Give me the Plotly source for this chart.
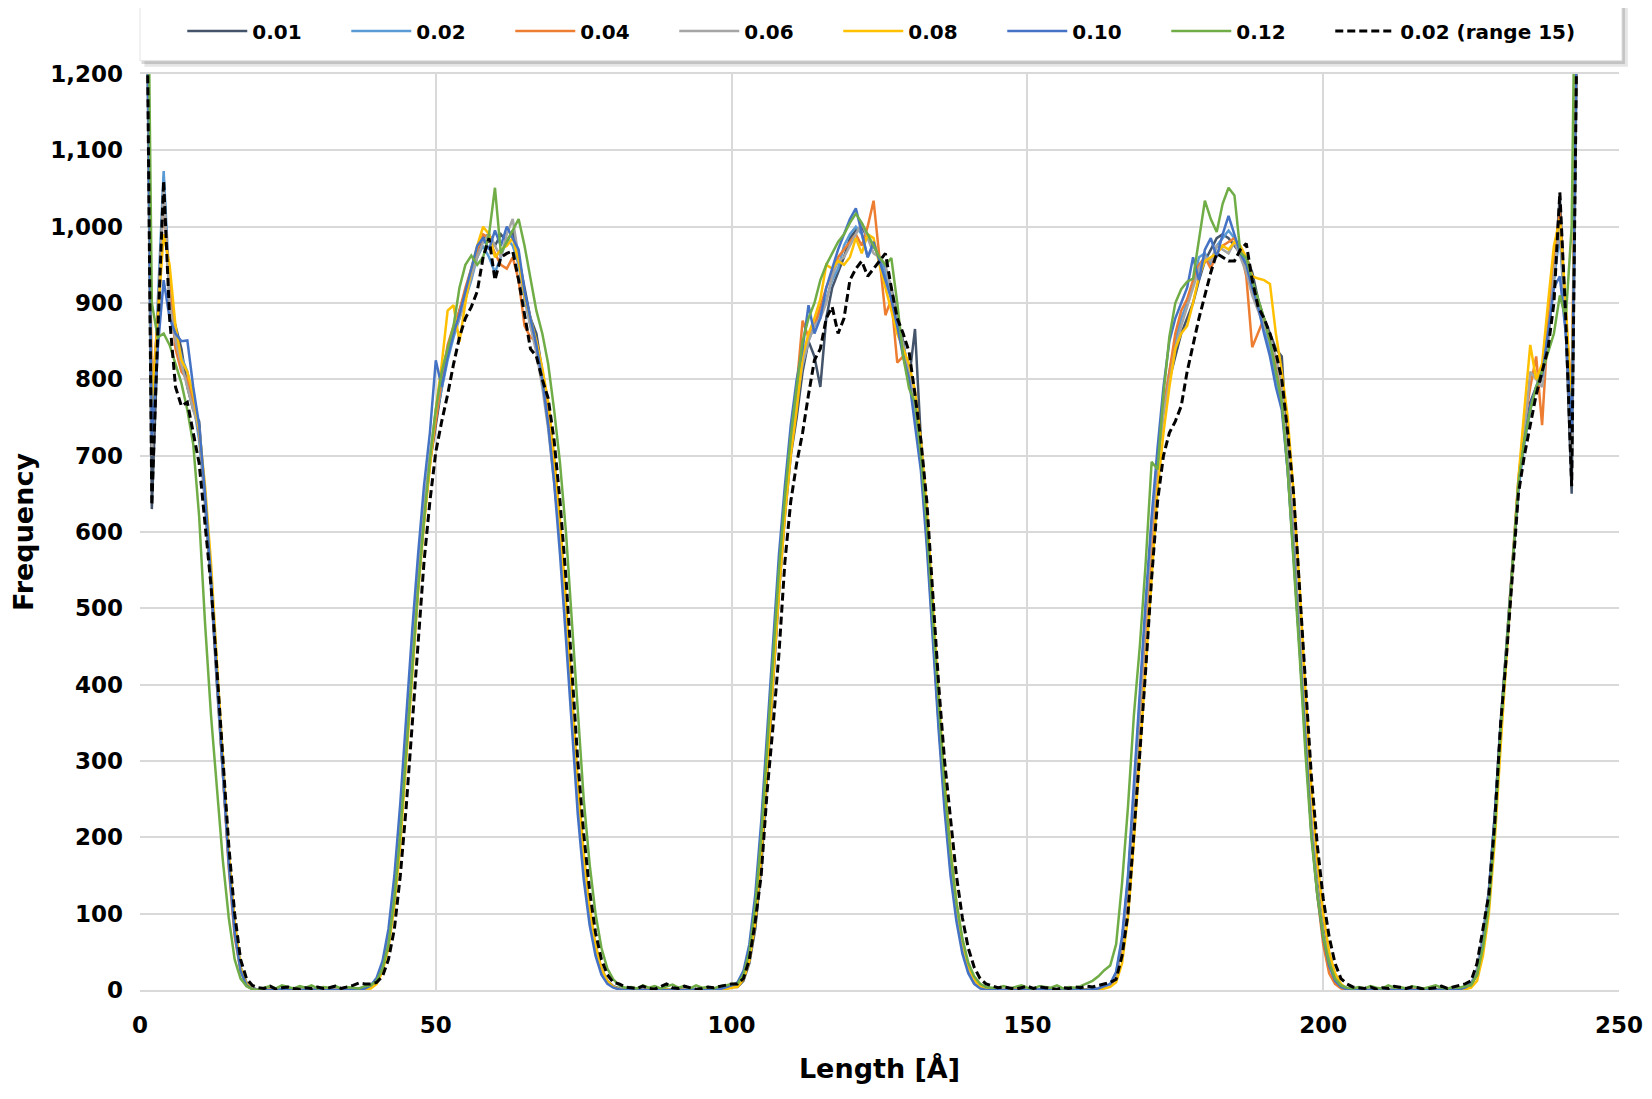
import plotly.graph_objects as go

FONT = "'DejaVu Sans', 'Open Sans', sans-serif"
GRID = "#d9d9d9"

# x positions of the histogram bins (Angstrom)
LENGTH = list(range(1, 244))

SERIES_NAMES = ["0.01", "0.02", "0.04", "0.06", "0.08", "0.10", "0.12", "0.02 (range 15)"]
SERIES_COLORS = ["#44546a", "#5b9bd5", "#ed7d31", "#a5a5a5", "#ffc000", "#4472c4", "#70ad47", "#000000"]

F001 = [
    1450, 630, 850, 1065, 900, 870, 840, 790, 760, 745, 640, 530, 400, 280, 170, 85, 30, 10, 3, 0,
    0, 0, 1, 0, 0, 2, 0, 0, 1, 0, 0, 0, 2, 0, 1, 0, 2, 3,
    5, 12, 30, 65, 125, 210, 320, 430, 530, 615, 690, 740, 790, 830, 860, 890, 915, 940, 960, 985,
    990, 975, 990, 980, 995, 960, 920, 880, 860, 810, 760, 690, 600, 490, 370, 255, 165, 100, 55, 28,
    12, 5, 2, 0,
    0, 1, 0, 0, 2, 0, 1, 0, 0, 0, 1, 0, 0, 2, 0, 1, 2, 4,
    4, 12, 35, 80, 160, 280, 400, 520, 620, 700, 750, 810, 850, 830, 790, 880, 920, 940, 960, 985,
    995, 1000, 985, 975, 960, 945, 920, 880, 850, 800, 866, 720, 600, 470, 350, 250, 170, 105, 60, 30,
    14, 6, 2, 0,
    0, 0, 1, 0, 0, 0, 2, 0, 1, 0, 0, 1, 0, 0, 0, 1, 0, 2, 3, 5,
    20, 60, 140, 250, 370, 490, 600, 690, 760, 800, 830, 860, 880, 900, 930, 955, 970, 985, 990, 985,
    975, 965, 960, 940, 905, 880, 860, 840, 830, 700, 590, 460, 330, 220, 140, 80, 40, 18, 6, 2, 0,
    0, 0, 0, 1, 0, 0, 2, 0, 0, 0, 1, 0, 0, 0, 1, 0, 0, 2, 3, 6,
    25, 70, 130, 230, 350, 450, 560, 660, 720, 770, 790, 800, 850, 930, 1040, 870, 650, 1340,
]

F002 = [
    1450, 720, 900, 1073, 920, 860, 830, 810, 770, 720, 640, 540, 410, 290, 175, 90, 30, 8, 2, 0,
    0, 0, 0, 1, 0, 0, 0, 2, 0, 0, 1, 0, 0, 0, 1, 0, 1, 3,
    4, 14, 35, 70, 135, 225, 330, 440, 540, 625, 700, 750, 790, 825, 855, 880, 905, 930, 960, 975,
    960, 940, 960, 985, 975, 950, 905, 870, 845, 810, 760, 680, 590, 480, 360, 250, 160, 95, 50, 24,
    10, 4, 1, 0,
    0, 0, 1, 0, 0, 0, 0, 1, 0, 0, 0, 0, 1, 0, 0, 0, 2, 4,
    6, 18, 45, 100, 190, 310, 430, 540, 640, 720, 780, 820, 850, 870, 890, 905, 930, 945, 975, 990,
    1000, 990, 960, 975, 960, 940, 905, 870, 845, 810, 750, 700, 600, 480, 360, 255, 170, 105, 60, 30,
    12, 4, 1, 0,
    0, 0, 0, 0, 1, 0, 0, 0, 2, 0, 0, 0, 1, 0, 0, 0, 1, 2, 4, 7,
    22, 65, 145, 255, 380, 500, 610, 700, 760, 810, 850, 880, 900, 925, 960, 965, 950, 975, 985, 995,
    985, 970, 955, 930, 900, 870, 840, 800, 770, 680, 570, 450, 320, 210, 130, 75, 38, 16, 6, 2, 0,
    0, 0, 1, 0, 0, 0, 0, 1, 0, 0, 0, 0, 2, 0, 0, 0, 1, 2, 4, 8,
    28, 72, 128, 225, 345, 450, 555, 655, 715, 760, 790, 815, 870, 930, 990, 860, 720, 1340,
]

F004 = [
    1450, 775, 880, 1040, 920, 840, 810, 800, 770, 730, 650, 540, 410, 280, 160, 70, 25, 6, 1, 0,
    0, 1, 0, 0, 0, 2, 0, 0, 0, 1, 0, 0, 0, 1, 0, 0, 2, 3,
    5, 12, 30, 66, 128, 212, 320, 430, 530, 615, 690, 745, 800, 845, 870, 890, 920, 945, 970, 990,
    985, 965, 950, 945, 960, 930, 870, 855, 850, 810, 765, 690, 600, 490, 370, 255, 165, 98, 52, 25,
    10, 4, 1, 0,
    0, 0, 0, 1, 0, 0, 0, 0, 2, 0, 0, 0, 0, 1, 0, 0, 2, 4,
    5, 16, 42, 95, 185, 300, 420, 530, 630, 720, 790, 877, 855, 870, 895, 920, 940, 960, 970, 980,
    990, 975, 1000, 1034, 960, 884, 905, 822, 830, 800, 760, 690, 590, 470, 350, 245, 160, 100, 55, 28,
    12, 5, 1, 0,
    0, 0, 0, 1, 0, 0, 0, 0, 0, 2, 0, 0, 0, 1, 0, 0, 0, 2, 4, 6,
    18, 58, 138, 245, 365, 480, 590, 690, 760, 810, 860, 890, 905, 930, 950, 960, 945, 965, 975, 980,
    985, 970, 935, 842, 860, 880, 850, 820, 780, 690, 575, 450, 320, 210, 125, 60, 22, 8, 2, 0, 0,
    0, 0, 0, 0, 1, 0, 0, 0, 0, 1, 0, 0, 0, 0, 1, 0, 0, 2, 3, 6,
    22, 65, 125, 225, 345, 455, 565, 670, 740, 790, 830, 740, 870, 960, 1020, 880, 780, 1340,
]

F006 = [
    1450, 700, 870, 1050, 900, 850, 820, 790, 760, 735, 650, 540, 410, 285, 170, 85, 28, 8, 2, 0,
    0, 0, 0, 0, 1, 0, 0, 0, 0, 2, 0, 0, 1, 0, 0, 0, 1, 3,
    5, 13, 32, 70, 135, 225, 335, 445, 545, 630, 700, 760, 810, 840, 860, 880, 905, 935, 960, 980,
    990, 975, 960, 990, 1010, 960, 910, 870, 835, 790, 735, 665, 590, 485, 365, 255, 165, 98, 52, 25,
    10, 4, 1, 0,
    0, 0, 0, 0, 0, 1, 0, 0, 0, 0, 2, 0, 0, 0, 0, 1, 2, 4,
    5, 15, 40, 90, 180, 295, 415, 530, 630, 710, 770, 820, 850, 870, 880, 900, 935, 955, 960, 975,
    990, 1005, 985, 965, 960, 950, 915, 880, 845, 810, 760, 700, 600, 480, 360, 255, 170, 105, 60, 30,
    12, 4, 1, 0,
    0, 0, 0, 0, 0, 1, 0, 0, 0, 0, 0, 2, 0, 0, 0, 0, 1, 2, 4, 7,
    20, 62, 142, 250, 375, 495, 605, 695, 755, 800, 840, 870, 895, 920, 945, 960, 955, 975, 970, 965,
    980, 960, 940, 910, 890, 870, 855, 830, 790, 700, 585, 460, 330, 220, 135, 75, 36, 15, 5, 1, 0,
    0, 0, 0, 0, 0, 0, 1, 0, 0, 0, 0, 0, 1, 0, 0, 0, 0, 2, 4, 7,
    25, 68, 128, 228, 350, 455, 560, 665, 730, 810, 800, 790, 850, 940, 1000, 870, 700, 1340,
]

F008 = [
    1450, 760, 880, 990, 950, 870, 825, 810, 780, 735, 660, 560, 430, 300, 180, 90, 30, 8, 1, 0,
    0, 0, 0, 0, 0, 1, 0, 0, 0, 0, 1, 0, 0, 0, 0, 1, 0, 1,
    2, 8, 24, 55, 110, 190, 300, 410, 520, 610, 690, 760, 820, 890, 897, 849, 900, 945, 975, 1000,
    990, 960, 970, 975, 985, 955, 910, 880, 850, 815, 770, 700, 615, 510, 390, 275, 180, 110, 60, 28,
    12, 4, 1, 0,
    0, 0, 0, 0, 0, 0, 1, 0, 0, 0, 0, 0, 0, 1, 0, 0, 1, 3,
    4, 14, 38, 88, 175, 290, 410, 520, 620, 700, 760, 830, 860, 880, 905, 950, 945, 955, 950, 960,
    985, 965, 990, 985, 950, 920, 890, 860, 840, 820, 785, 720, 630, 505, 385, 275, 185, 115, 65, 32,
    14, 5, 1, 0,
    0, 0, 0, 0, 0, 0, 1, 0, 0, 0, 0, 0, 0, 0, 1, 0, 0, 1, 2, 4,
    10, 35, 95, 195, 310, 430, 550, 655, 730, 790, 840, 860, 870, 900, 935, 955, 960, 965, 975, 970,
    980, 975, 960, 935, 932, 930, 925, 860, 810, 750, 650, 530, 390, 265, 170, 100, 50, 22, 8, 2, 0,
    0, 0, 0, 0, 0, 0, 0, 1, 0, 0, 0, 0, 0, 0, 1, 0, 0, 0, 1, 3,
    12, 45, 100, 195, 320, 440, 560, 670, 760, 845, 800, 820, 900, 975, 1010, 900, 760, 1340,
]

F010 = [
    1450, 720, 840, 930, 880, 860, 850, 851, 790, 740, 650, 540, 410, 285, 165, 75, 25, 6, 1, 0,
    0, 0, 0, 1, 0, 0, 0, 0, 0, 1, 0, 0, 0, 0, 0, 1, 1, 2,
    6, 16, 38, 80, 150, 245, 360, 470, 570, 660, 730, 825, 790, 830, 860, 885, 915, 945, 975, 985,
    970, 995, 975, 1000, 985, 970, 915, 880, 845, 800, 740, 665, 570, 460, 340, 230, 145, 85, 45, 20,
    8, 3, 1, 0,
    0, 0, 0, 0, 1, 0, 0, 0, 0, 0, 0, 1, 0, 0, 0, 1, 3, 6,
    10, 25, 60, 125, 220, 340, 460, 570, 660, 740, 800, 840, 897, 860, 880, 920, 945, 970, 990, 1010,
    1024, 990, 960, 980, 955, 930, 905, 870, 830, 800, 740, 680, 580, 460, 340, 235, 150, 90, 48, 22,
    8, 2, 0, 0,
    0, 0, 0, 0, 0, 0, 0, 1, 0, 0, 0, 0, 0, 1, 0, 0, 1, 2, 5, 8,
    24, 70, 150, 265, 390, 510, 620, 710, 790, 850, 880, 900, 920, 960, 930, 970, 985, 960, 990, 1014,
    990, 965, 950, 920, 895, 860, 830, 790, 760, 680, 570, 445, 315, 205, 125, 68, 32, 12, 4, 1, 0,
    0, 0, 0, 0, 0, 0, 0, 0, 1, 0, 0, 0, 0, 0, 1, 0, 0, 1, 3, 8,
    20, 62, 125, 228, 348, 452, 560, 660, 720, 765, 790, 805, 860, 920, 935, 860, 730, 1340,
]

F012 = [
    1600, 900, 855, 860, 845, 820, 795, 760, 715, 620, 480, 360, 260, 170, 95, 40, 15, 5, 1, 0,
    3, 5, 2, 6, 4, 2, 5, 3, 6, 2, 4, 3, 5, 2, 4, 3, 2, 5,
    6, 12, 28, 60, 120, 205, 310, 420, 525, 615, 695, 760, 810, 840, 870, 920, 950, 962, 950, 960,
    990, 1051, 965, 980, 995, 1010, 975, 935, 890, 860, 820, 760, 690, 600, 480, 360, 250, 165, 100, 55,
    28, 14, 6, 3,
    4, 2, 6, 3, 5, 2, 4, 7, 3, 5, 2, 6, 3, 4, 2, 5, 6, 8,
    8, 20, 50, 110, 200, 320, 440, 550, 645, 725, 790, 850, 880, 900, 930, 950, 965, 980, 990, 1005,
    1017, 1005, 990, 975, 960, 950, 959, 900, 830, 788, 770, 700, 610, 490, 370, 265, 180, 115, 68, 36,
    18, 8, 4, 3,
    3, 5, 2, 4, 6, 3, 2, 5, 4, 3, 6, 2, 4, 3, 5, 8, 12, 18, 26, 32,
    60, 140, 240, 360, 450, 560, 692, 682, 780, 856, 900, 918, 928, 932, 980, 1034, 1010, 993, 1030, 1051,
    1041, 966, 959, 930, 905, 880, 850, 810, 770, 680, 565, 440, 310, 200, 125, 70, 36, 15, 6, 3, 2,
    4, 2, 5, 3, 2, 6, 3, 4, 2, 5, 3, 2, 4, 6, 3, 2, 4, 3, 5, 6,
    20, 55, 110, 210, 340, 450, 560, 665, 720, 760, 790, 810, 835, 860, 910, 880, 1000, 1600,
]

F002_R15 = [
    1450, 635, 860, 1060, 880, 790, 765, 770, 730, 690, 610, 530, 420, 300, 190, 100, 40, 15, 6, 3,
    2, 5, 1, 3, 4, 2, 1, 3, 2, 4, 2, 3, 5, 2, 4, 6, 9, 8,
    8, 10, 18, 40, 80, 150, 240, 350, 460, 560, 640, 705, 745, 780, 820, 855, 880, 895, 915, 960,
    985, 930, 960, 965, 968, 930, 885, 840, 830, 800, 775, 720, 640, 540, 420, 300, 205, 130, 75, 40,
    20, 10, 8, 4,
    3, 2, 5, 2, 1, 4, 8, 3, 2, 5, 3, 1, 2, 4, 3, 5, 6, 8,
    8, 15, 40, 90, 150, 260, 345, 440, 560, 640, 690, 730, 780, 825, 840, 880, 895, 860, 880, 930,
    945, 955, 935, 945, 955, 965, 920, 880, 860, 836, 780, 720, 640, 525, 400, 300, 220, 150, 95, 55,
    30, 15, 8, 5,
    3, 4, 2, 1, 3, 5, 2, 4, 3, 2, 1, 3, 2, 4, 3, 5, 4, 6, 8, 10,
    14, 45, 100, 200, 310, 420, 540, 640, 700, 730, 745, 765, 810, 845, 880, 910, 940, 965, 960, 955,
    955, 970, 978, 930, 895, 880, 860, 835, 800, 730, 650, 530, 400, 280, 190, 120, 70, 35, 15, 8, 4,
    3, 2, 4, 1, 3, 2, 5, 3, 2, 4, 3, 1, 2, 3, 5, 2, 4, 6, 8, 12,
    35, 80, 125, 220, 350, 440, 545, 650, 700, 740, 780, 810, 840, 900, 1045, 880, 660, 1340,
]

SERIES = [F001, F002, F004, F006, F008, F010, F012, F002_R15]
for s in SERIES:
    assert len(s) == len(LENGTH), len(s)

fig = go.Figure()
for name, color, ys in zip(SERIES_NAMES, SERIES_COLORS, SERIES):
    dashed = name.startswith("0.02 (")
    fig.add_trace(
        go.Scatter(
            x=LENGTH,
            y=ys,
            name=name,
            mode="lines",
            line=dict(color=color, width=3 if dashed else 2.5, dash="8px,4px" if dashed else "solid"),
        )
    )

# empty spacer entry so the long last legend label is not clipped
fig.add_trace(go.Scatter(x=[None], y=[None], name=" ", mode="lines",
                         line=dict(color="rgba(0,0,0,0)", width=0), hoverinfo="skip"))

# legend frame with a soft drop shadow, drawn as shapes behind the legend
fig.add_shape(type="rect", xref="paper", yref="paper", x0=0.003, x1=1.006, y0=1.008, y1=1.074,
              fillcolor="rgba(0,0,0,0.10)", line=dict(width=0), layer="above")
fig.add_shape(type="rect", xref="paper", yref="paper", x0=0.001, x1=1.004, y0=1.011, y1=1.076,
              fillcolor="rgba(0,0,0,0.15)", line=dict(width=0), layer="above")
fig.add_shape(type="rect", xref="paper", yref="paper", x0=0.0, x1=1.002, y0=1.0145, y1=1.0785,
              fillcolor="white", line=dict(color="#e3e3e3", width=1), layer="above")

# the page body adds an 8px offset, so the figure is 8px smaller than the window
fig.update_layout(
    width=1644,
    height=1091,
    paper_bgcolor="white",
    plot_bgcolor="white",
    font=dict(family=FONT, color="#000000", size=20, weight="bold"),
    margin=dict(l=132, r=33, t=66, b=109, autoexpand=False),
    showlegend=True,
    legend=dict(
        orientation="h",
        xref="container",
        yref="container",
        x=0.106,
        xanchor="left",
        y=0.9789,
        yanchor="middle",
        bgcolor="rgba(0,0,0,0)",
        font=dict(family=FONT, size=20, color="#000000", weight="bold"),
        entrywidth=89,
        entrywidthmode="pixels",
        itemwidth=60,
        tracegroupgap=0,
    ),
    xaxis=dict(
        range=[0, 250],
        dtick=50,
        tick0=0,
        showgrid=True,
        gridcolor=GRID,
        gridwidth=1.5,
        zeroline=False,
        showline=True,
        linecolor=GRID,
        linewidth=1.5,
        mirror=True,
        ticks="",
        automargin=False,
        ticklabelstandoff=14,
        tickfont=dict(family=FONT, size=23, weight="bold"),
        title=dict(text="Length [Å]", font=dict(family=FONT, size=27, weight="bold"), standoff=22),
    ),
    yaxis=dict(
        range=[0, 1200],
        dtick=100,
        tick0=0,
        tickformat=",",
        showgrid=True,
        gridcolor=GRID,
        gridwidth=1.5,
        zeroline=True,
        zerolinecolor="#bfbfbf",
        zerolinewidth=1.5,
        showline=False,
        ticks="",
        automargin=False,
        ticklabelstandoff=16,
        tickfont=dict(family=FONT, size=23, weight="bold"),
        title=dict(text="Frequency", font=dict(family=FONT, size=27, weight="bold"), standoff=13),
    ),
)

fig.write_html("out.html")
